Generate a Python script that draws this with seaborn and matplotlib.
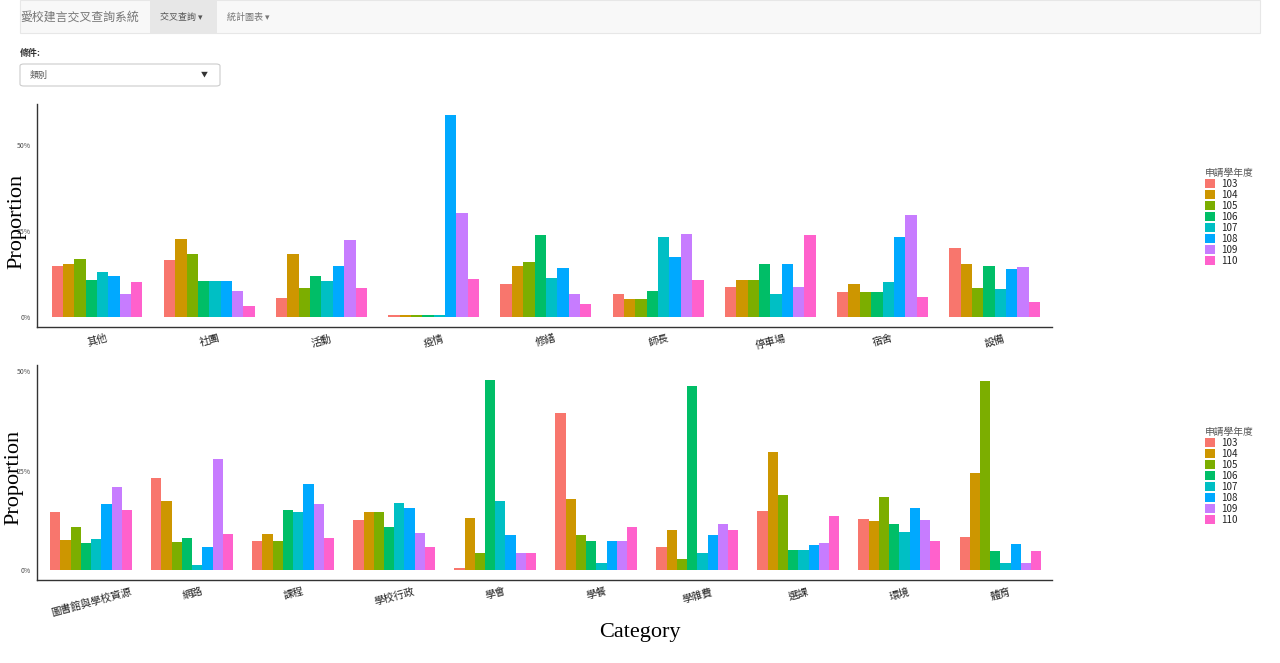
import matplotlib
import numpy as np
import pandas as pd
import seaborn as sns
from matplotlib import pyplot as plt
from matplotlib.patches import Rectangle, FancyBboxPatch, Patch

matplotlib.use("Agg")

# Years (legend) and the ggplot default hue palette
YEARS = ["103", "104", "105", "106", "107", "108", "109", "110"]
PALETTE = ["#F8766D", "#CD9600", "#7CAE00", "#00BE67", "#00BFC4", "#00A9FF", "#C77CFF", "#FF61CC"]

# Top panel categories and proportions (%), one list per category, in year order
TOP_CATS = ["其他", "社團", "活動", "疫情", "修繕", "師長", "停車場", "宿舍", "設備"]
TOP_VALUES = [
    [14.9, 15.3, 17.0, 10.8, 13.2, 12.0, 6.8, 10.3],
    [16.6, 22.8, 18.2, 10.6, 10.6, 10.6, 7.5, 3.1],
    [5.4, 18.2, 8.5, 11.8, 10.6, 14.9, 22.4, 8.5],
    [0.5, 0.5, 0.5, 0.5, 0.5, 58.8, 30.4, 11.0],
    [9.5, 14.9, 16.1, 23.8, 11.4, 14.3, 6.6, 3.7],
    [6.6, 5.2, 5.2, 7.5, 23.2, 17.4, 24.2, 10.8],
    [8.7, 10.8, 10.8, 15.3, 6.6, 15.3, 8.7, 24.0],
    [7.4, 9.7, 7.2, 7.4, 10.3, 23.2, 29.6, 5.8],
    [20.1, 15.3, 8.5, 14.9, 8.3, 14.1, 14.7, 4.4],
]

# Bottom panel
BOTTOM_CATS = ["圖書館與學校資源", "網路", "課程", "學校行政", "學會", "學餐", "學雜費", "選課", "環境", "體育"]
BOTTOM_VALUES = [
    [14.5, 7.6, 10.8, 6.9, 7.9, 16.5, 20.8, 15.1],
    [23.2, 17.5, 7.1, 8.1, 1.2, 5.9, 27.9, 9.2],
    [7.4, 9.2, 7.4, 15.1, 14.6, 21.7, 16.6, 8.1],
    [12.6, 14.5, 14.6, 10.8, 17.0, 15.5, 9.4, 5.7],
    [0.5, 13.1, 4.4, 47.7, 17.3, 8.7, 4.4, 4.4],
    [39.4, 17.8, 8.9, 7.2, 1.8, 7.2, 7.2, 10.8],
    [5.9, 10.1, 2.9, 46.4, 4.4, 8.7, 11.6, 10.1],
    [14.8, 29.6, 18.8, 5.0, 5.0, 6.2, 6.9, 13.6],
    [12.8, 12.3, 18.3, 11.6, 9.6, 15.6, 12.6, 7.4],
    [8.2, 24.5, 47.6, 4.9, 1.7, 6.6, 1.7, 4.9],
]

CJK = ["Noto Sans CJK TC", "DejaVu Sans"]
W, H = 1280, 663


def to_frame(cats, values):
    rows = []
    for cat, vals in zip(cats, values):
        for year, v in zip(YEARS, vals):
            rows.append({"類別": cat, "申請學年度": year, "比例": v})
    return pd.DataFrame(rows)


def fx(px):
    return px / W


def fy(py):
    return 1 - py / H


def draw_panel(fig, rect, cats, values, ylim, legend_top):
    ax = fig.add_axes(rect)
    df = to_frame(cats, values)
    sns.barplot(data=df, x="類別", y="比例", hue="申請學年度", order=cats,
                hue_order=YEARS, palette=PALETTE, width=0.81, gap=0,
                saturation=1, linewidth=0, legend=False, ax=ax)
    ax.set_xlim(-0.535, len(cats) - 0.49)
    ax.set_ylim(*ylim)
    ax.set_yticks([0, 25, 50])
    ax.set_yticklabels(["0%", "25%", "50%"], fontsize=5, color="#4d4d4d", family=CJK)
    ax.set_xticks(range(len(cats)))
    ax.set_xticklabels(cats, rotation=15, ha="center", fontsize=7.5, color="#222222", family=CJK)
    ax.tick_params(axis="both", length=2.5, width=0.8, color="#333333", pad=2)
    ax.set_xlabel("")
    ax.set_ylabel("")
    for side in ["top", "right"]:
        ax.spines[side].set_visible(False)
    for side in ["left", "bottom"]:
        ax.spines[side].set_color("#333333")
        ax.spines[side].set_linewidth(1.0)

    handles = [Patch(facecolor=c, edgecolor="none") for c in PALETTE]
    leg = ax.legend(handles, YEARS, title="申請學年度", loc="upper left",
                    bbox_to_anchor=(fx(1200), fy(legend_top)), bbox_transform=fig.transFigure,
                    frameon=False, fontsize=7, title_fontsize=7, handlelength=1.05,
                    handleheight=1.1, labelspacing=0.1, handletextpad=0.6, borderpad=0)
    leg.get_title().set_family(CJK)
    leg.get_title().set_color("#555555")
    leg._legend_box.align = "left"
    for t in leg.get_texts():
        t.set_color("#222222")
    return ax


sns.set_style("white")
plt.rcParams["font.family"] = CJK

fig = plt.figure(figsize=(W / 100, H / 100), dpi=100)

# navbar
fig.patches.append(Rectangle((fx(20), fy(33)), fx(1240), 33 / H, transform=fig.transFigure,
                             facecolor="#f8f8f8", edgecolor="#e7e7e7", linewidth=0.8))
fig.patches.append(Rectangle((fx(150), fy(33)), fx(67), 33 / H, transform=fig.transFigure,
                             facecolor="#e7e7e7", edgecolor="none"))
fig.text(fx(20), fy(17), "愛校建言交叉查詢系統", fontsize=8.6, color="#777777", va="center", family=CJK)
fig.text(fx(160), fy(17), "交叉查詢 ▾", fontsize=6.5, color="#555555", va="center", family=CJK)
fig.text(fx(227), fy(17), "統計圖表 ▾", fontsize=6.5, color="#777777", va="center", family=CJK)

# selector
fig.text(fx(20), fy(53), "條件:", fontsize=6.5, color="#333333", va="center", weight="bold", family=CJK)
fig.patches.append(FancyBboxPatch((fx(20), fy(86)), fx(200), 22 / H, transform=fig.transFigure,
                                  boxstyle="round,pad=0,rounding_size=0.003",
                                  facecolor="white", edgecolor="#cccccc", linewidth=0.8))
fig.text(fx(30), fy(75), "類別", fontsize=6.5, color="#555555", va="center", family=CJK)
fig.text(fx(204), fy(75), "▼", fontsize=5, color="#333333", va="center", ha="center", family=CJK)

# charts
draw_panel(fig, [fx(37), fy(327), fx(1015), 223 / H], TOP_CATS, TOP_VALUES, (-2.9, 62), 163)
draw_panel(fig, [fx(37), fy(580), fx(1015), 215 / H], BOTTOM_CATS, BOTTOM_VALUES, (-2.5, 51.6), 422)

# replaced axis titles
fig.text(fx(17), fy(221), "Proportion", rotation=90, fontsize=16, family="Liberation Serif",
         ha="center", va="center", color="black")
fig.text(fx(14), fy(477), "Proportion", rotation=90, fontsize=16, family="Liberation Serif",
         ha="center", va="center", color="black")
fig.text(fx(640), fy(632), "Category", fontsize=16, family="Liberation Serif",
         ha="center", va="center", color="black")

fig.savefig("out.png", dpi=100)
plt.close(fig)
